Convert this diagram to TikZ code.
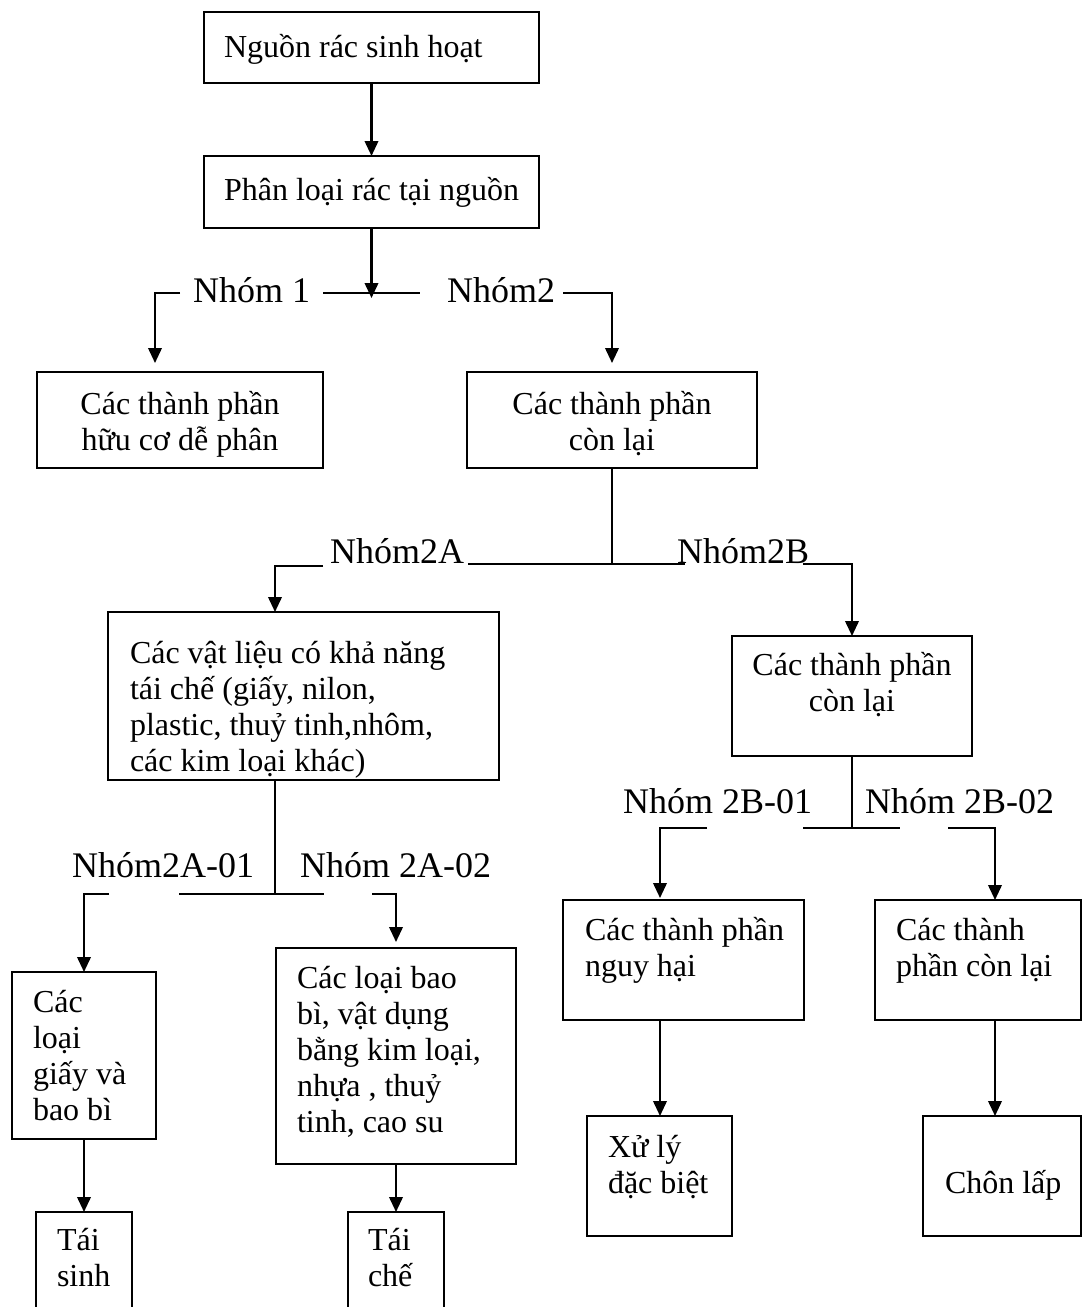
\documentclass[tikz,border=0pt]{standalone}
\usepackage{fontspec}
\setmainfont{Liberation Serif}
\usetikzlibrary{arrows.meta}

% box contents: width, height, left pad, first baseline, text
\newcommand{\lefttext}[5]{\parbox[c][#2pt][t]{#1pt}{\fontsize{32}{36}\selectfont\raggedright\leftskip=#3pt\relax\rule{0pt}{#4pt}#5}}
% box contents: width, height, first baseline, text
\newcommand{\centertext}[4]{\parbox[c][#2pt][t]{#1pt}{\fontsize{32}{36}\selectfont\centering\rule{0pt}{#3pt}#4}}

\tikzset{
  box/.style={draw, line width=2.2pt, rectangle, inner sep=0pt, outer sep=0pt, anchor=north west},
  link/.style={line width=2.2pt},
  arr/.style={line width=2.2pt, -{Triangle[length=15pt,width=13.5pt]}},
  lbl/.style={anchor=base west, inner sep=0pt, font=\fontsize{36}{40}\selectfont},
}

\begin{document}
\begin{tikzpicture}[x=1pt, y=-1pt]
\useasboundingbox (0,0) rectangle (1083,1307);
\clip (0,0) rectangle (1083,1307);

% boxes
\node[box] (src)     at (204,12)   {\lefttext{335}{71}{20}{45}{Nguồn rác sinh hoạt}};
\node[box] (sort)    at (204,156)  {\lefttext{335}{72}{20}{44}{Phân loại rác tại nguồn}};
\node[box] (org)     at (37,372)   {\centertext{286}{96}{42}{Các thành phần\\hữu cơ dễ phân}};
\node[box] (rest)    at (467,372)  {\centertext{290}{96}{42}{Các thành phần\\còn lại}};
\node[box] (recyc)   at (108,612)  {\lefttext{391}{168}{22}{51}{Các vật liệu có khả năng\\tái chế (giấy, nilon,\\plastic, thuỷ tinh,nhôm,\\các kim loại khác)}};
\node[box] (rest2)   at (732,636)  {\centertext{240}{120}{39}{Các thành phần\\còn lại}};
\node[box] (paper)   at (12,972)   {\lefttext{144}{167}{21}{40}{Các\\loại\\giấy và\\bao bì}};
\node[box] (pack)    at (276,948)  {\lefttext{240}{216}{21}{40}{Các loại bao\\bì, vật dụng\\bằng kim loại,\\nhựa , thuỷ\\tinh, cao su}};
\node[box] (haz)     at (563,900)  {\lefttext{241}{120}{22}{40}{Các thành phần\\nguy hại}};
\node[box] (other)   at (875,900)  {\lefttext{206}{120}{21}{40}{Các thành\\phần còn lại}};
\node[box] (special) at (587,1116) {\lefttext{145}{120}{21}{41}{Xử lý\\đặc biệt}};
\node[box] (landfill) at (923,1116) {\lefttext{158}{120}{22}{77}{Chôn lấp}};
\node[box] (regen)   at (36,1212)  {\lefttext{96}{120}{21}{38}{Tái\\sinh}};
\node[box] (remake)  at (348,1212) {\lefttext{96}{120}{20}{38}{Tái\\chế}};

% group labels
\node[lbl] (g1)   at (193,302) {Nhóm 1};
\node[lbl] (g2)   at (447,302) {Nhóm2};
\node[lbl] (g2a)  at (330,563) {Nhóm2A};
\node[lbl] (g2b)  at (677,563) {Nhóm2B};
\node[lbl] (g2a1) at (72,877)  {Nhóm2A-01};
\node[lbl] (g2a2) at (300,877) {Nhóm 2A-02};
\node[lbl] (g2b1) at (623,813) {Nhóm 2B-01};
\node[lbl] (g2b2) at (865,813) {Nhóm 2B-02};

% junction points of the branch lines
\coordinate (hub1) at (371.5,298);
\coordinate (a1) at (155,293);  \coordinate (a2) at (180,293);
\coordinate (a3) at (323,293);  \coordinate (a4) at (420,293);
\coordinate (a5) at (563,293);  \coordinate (a6) at (612,293);

\coordinate (b0) at (612,564);
\coordinate (b1) at (275,566);  \coordinate (b2) at (323,566);
\coordinate (b3) at (468,564);  \coordinate (b4) at (685,564);
\coordinate (b5) at (803,564);  \coordinate (b6) at (852,564);

\coordinate (c0) at (275,780);  \coordinate (c9) at (275,894);
\coordinate (c1) at (84,894);   \coordinate (c2) at (109,894);
\coordinate (c3) at (179,894);  \coordinate (c4) at (324,894);
\coordinate (c5) at (372,894);  \coordinate (c6) at (396,894);

\coordinate (d0) at (852,828);
\coordinate (d1) at (660,828);  \coordinate (d2) at (707,828);
\coordinate (d3) at (803,828);  \coordinate (d4) at (900,828);
\coordinate (d5) at (948,828);  \coordinate (d6) at (995,828);

% trunk
\draw[arr] (src.south) -- (sort.north);
\draw[arr] (sort.south) -- (hub1);

% first split
\draw[arr, shorten >=9pt] (a2) -- (a1) -- (a1 |- org.north);
\draw[link] (a3) -- (a4);
\draw[arr, shorten >=9pt] (a5) -- (a6) -- (rest.north);

% second split
\draw[link] (rest.south) -- (b0);
\draw[arr] (b2) -- (b1) -- (b1 |- recyc.north);
\draw[link] (b3) -- (b4);
\draw[arr] (b5) -- (b6) -- (rest2.north);

% split of the recyclables
\draw[link] (c0) -- (c9);
\draw[arr] (c2) -- (c1) -- (paper.north);
\draw[link] (c3) -- (c4);
\draw[arr, shorten >=6pt] (c5) -- (c6) -- (pack.north);

% split of the remainder
\draw[link] (rest2.south) -- (d0);
\draw[arr, shorten >=2pt] (d2) -- (d1) -- (d1 |- haz.north);
\draw[link] (d3) -- (d4);
\draw[arr] (d5) -- (d6) -- (d6 |- other.north);

% final treatment
\draw[arr] (paper.south) -- (regen.north);
\draw[arr] (pack.south) -- (remake.north);
\draw[arr] (d1 |- haz.south) -- (d1 |- special.north);
\draw[arr] (d6 |- other.south) -- (d6 |- landfill.north);
\end{tikzpicture}
\end{document}
